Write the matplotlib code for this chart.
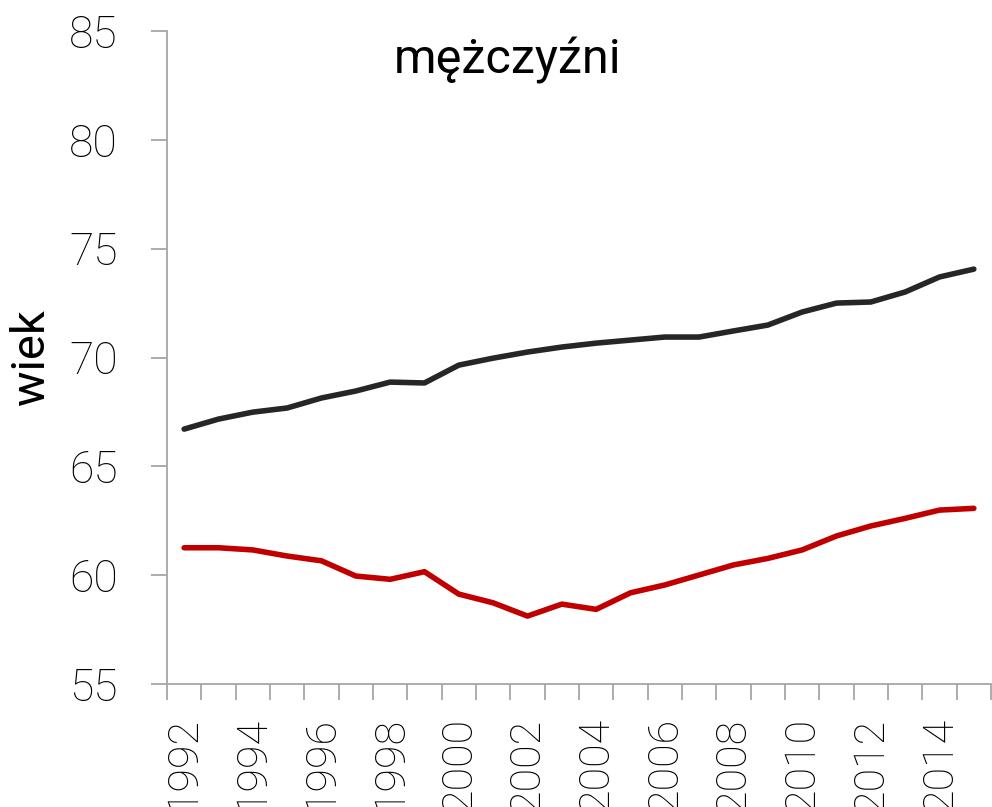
import matplotlib
matplotlib.use("Agg")
import matplotlib.pyplot as plt
import numpy as np

# Years on the category axis and life expectancy series
years = list(range(1992, 2016))
black_series = [66.71, 67.17, 67.49, 67.68, 68.14, 68.46, 68.87, 68.83, 69.65, 69.97,
                70.25, 70.48, 70.66, 70.80, 70.94, 70.94, 71.22, 71.49, 72.09, 72.50,
                72.55, 73.01, 73.70, 74.06]
red_series = [61.26, 61.26, 61.16, 60.88, 60.66, 59.96, 59.81, 60.16, 59.13, 58.73,
              58.12, 58.67, 58.43, 59.19, 59.55, 60.01, 60.47, 60.77, 61.16, 61.80,
              62.26, 62.61, 62.99, 63.07]
y_ticks = [55, 60, 65, 70, 75, 80, 85]
title = "mężczyźni"
y_label = "wiek"

plt.rcParams["font.family"] = ["Roboto", "DejaVu Sans"]

fig = plt.figure(figsize=(9.92, 8.07), dpi=100)
ax = fig.add_axes([0.1683, 0.1524, 0.8307, 0.8092])

x = np.arange(len(years))
ax.plot(x, black_series, color="#262626", lw=4.0, solid_capstyle="round", solid_joinstyle="round")
ax.plot(x, red_series, color="#C00000", lw=4.0, solid_capstyle="round", solid_joinstyle="round")

ax.set_xlim(-0.5, len(years) - 0.5)
ax.set_ylim(55, 85)

grey = "#A6A6A6"
for side in ("top", "right"):
    ax.spines[side].set_visible(False)
for side in ("left", "bottom"):
    ax.spines[side].set_color(grey)
    ax.spines[side].set_linewidth(1.3)

ax.set_yticks(y_ticks)
ax.set_yticklabels([str(v) for v in y_ticks], fontweight="light")
ax.tick_params(axis="y", length=11.5, width=1.3, color=grey, labelsize=32, pad=24)

# labels on every other year, tick marks between categories
ax.set_xticks(x[::2])
ax.set_xticklabels([str(y) for y in years[::2]], rotation=90, va="top", ha="center",
                   fontweight="light")
ax.set_xticks(np.arange(-0.5, len(years) + 0.5, 1), minor=True)
ax.tick_params(axis="x", which="major", length=0, labelsize=31, pad=24)
ax.tick_params(axis="x", which="minor", length=11.5, width=1.3, color=grey)

ax.set_ylabel(y_label, fontsize=34)
ax.yaxis.set_label_coords(-0.138, 0.501)
fig.text(0.512, 0.925, title, fontsize=35, ha="center", va="center")

fig.savefig("out.png", dpi=100)
